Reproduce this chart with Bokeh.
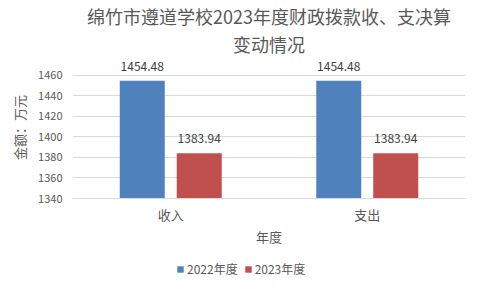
from bokeh.plotting import figure
from bokeh.layouts import column
from bokeh.models import Title, FixedTicker, Legend, LegendItem, ColumnDataSource, Range1d
from bokeh.transform import dodge
from bokeh.core.properties import value
from bokeh.embed import file_html
from bokeh.resources import INLINE

categories = ["收入", "支出"]
v2022 = [1454.48, 1454.48]
v2023 = [1383.94, 1383.94]
series_names = ["2022年度", "2023年度"]
y_ticks = [1340, 1360, 1380, 1400, 1420, 1440, 1460]
title_lines = ["绵竹市遵道学校2023年度财政拨款收、支决算", "变动情况"]

FONT = "Noto Sans CJK SC"
BLUE = "#4f81bd"
RED = "#c0504d"
GRAY = "#595959"

src = ColumnDataSource(dict(
    cat=categories, v1=v2022, v2=v2023,
    t1=[f"{v:.2f}" for v in v2022], t2=[f"{v:.2f}" for v in v2023],
))

p = figure(width=482, height=255, x_range=categories, y_range=Range1d(1340, 1478),
           output_backend="svg", toolbar_location=None,
           min_border_left=72, min_border_right=17, min_border_top=54, min_border_bottom=57)
p.title = None
p.outline_line_color = None
p.background_fill_color = "white"
p.border_fill_color = "white"

b1 = p.vbar(x=dodge("cat", -0.145, range=p.x_range), top="v1", bottom=1340, width=0.229,
            source=src, fill_color=BLUE, line_color=None)
b2 = p.vbar(x=dodge("cat", 0.145, range=p.x_range), top="v2", bottom=1340, width=0.229,
            source=src, fill_color=RED, line_color=None)

for col, t, off in (("v1", "t1", -0.145), ("v2", "t2", 0.145)):
    p.text(x=dodge("cat", off, range=p.x_range), y=col, text=t, source=src,
           text_align="center", text_baseline="bottom", y_offset=-10,
           text_font=value(FONT), text_font_size="12px", text_color="#404040")

p.yaxis.ticker = FixedTicker(ticks=y_ticks)
p.yaxis.axis_line_color = None
p.yaxis.major_tick_line_color = None
p.yaxis.minor_tick_line_color = None
p.yaxis.major_tick_out = 0
p.yaxis.major_label_text_font = FONT
p.yaxis.major_label_text_font_size = "11px"
p.yaxis.major_label_text_color = GRAY
p.yaxis.axis_label = "金额：万元"
p.yaxis.axis_label_text_font = FONT
p.yaxis.axis_label_text_font_size = "13px"
p.yaxis.axis_label_text_font_style = "normal"
p.yaxis.axis_label_text_color = GRAY
p.yaxis.major_label_standoff = 10
p.yaxis.axis_label_standoff = 6

p.xaxis.axis_line_color = "#d9d9d9"
p.xaxis.major_tick_line_color = None
p.xaxis.minor_tick_line_color = None
p.xaxis.major_tick_out = 0
p.xaxis.major_label_text_font = FONT
p.xaxis.major_label_text_font_size = "13px"
p.xaxis.major_label_text_color = GRAY
p.xaxis.major_label_standoff = 6
p.xaxis.axis_label = "年度"
p.xaxis.axis_label_text_font = FONT
p.xaxis.axis_label_text_font_size = "13px"
p.xaxis.axis_label_text_font_style = "normal"
p.xaxis.axis_label_text_color = GRAY
p.xaxis.axis_label_standoff = 0

p.xgrid.grid_line_color = None
p.ygrid.grid_line_color = "#d9d9d9"
p.ygrid.ticker = FixedTicker(ticks=y_ticks)

for line in reversed(title_lines):
    p.add_layout(Title(text=line, align="center", text_font=FONT, text_font_size="18px",
                       text_font_style="normal", text_color=GRAY, standoff=0, offset=-24,
                       text_line_height=1.0), "above")

# legend strip below the chart
leg = figure(width=482, height=35, x_range=Range1d(0, 1), y_range=Range1d(0, 1),
             output_backend="svg", toolbar_location=None,
             min_border_left=0, min_border_right=0, min_border_top=0, min_border_bottom=0)
leg.axis.visible = False
leg.grid.grid_line_color = None
leg.outline_line_color = None
hidden = ColumnDataSource(dict(x=[0.5], top=[0.0]))
r1 = leg.vbar(x="x", top="top", bottom=0, width=0, source=hidden, fill_color=BLUE, line_color=None)
r2 = leg.vbar(x="x", top="top", bottom=0, width=0, source=hidden, fill_color=RED, line_color=None)
legend = Legend(items=[LegendItem(label=series_names[0], renderers=[r1]),
                       LegendItem(label=series_names[1], renderers=[r2])],
                orientation="horizontal", location=(104, 13),
                label_text_font=FONT, label_text_font_size="12px", label_text_color=GRAY,
                glyph_width=8, glyph_height=8, spacing=6, label_standoff=3,
                border_line_color=None, background_fill_alpha=0, padding=0, margin=0)
leg.add_layout(legend, "center")

layout = column(p, leg, spacing=0)
open("out.html", "w").write(file_html(layout, INLINE))
